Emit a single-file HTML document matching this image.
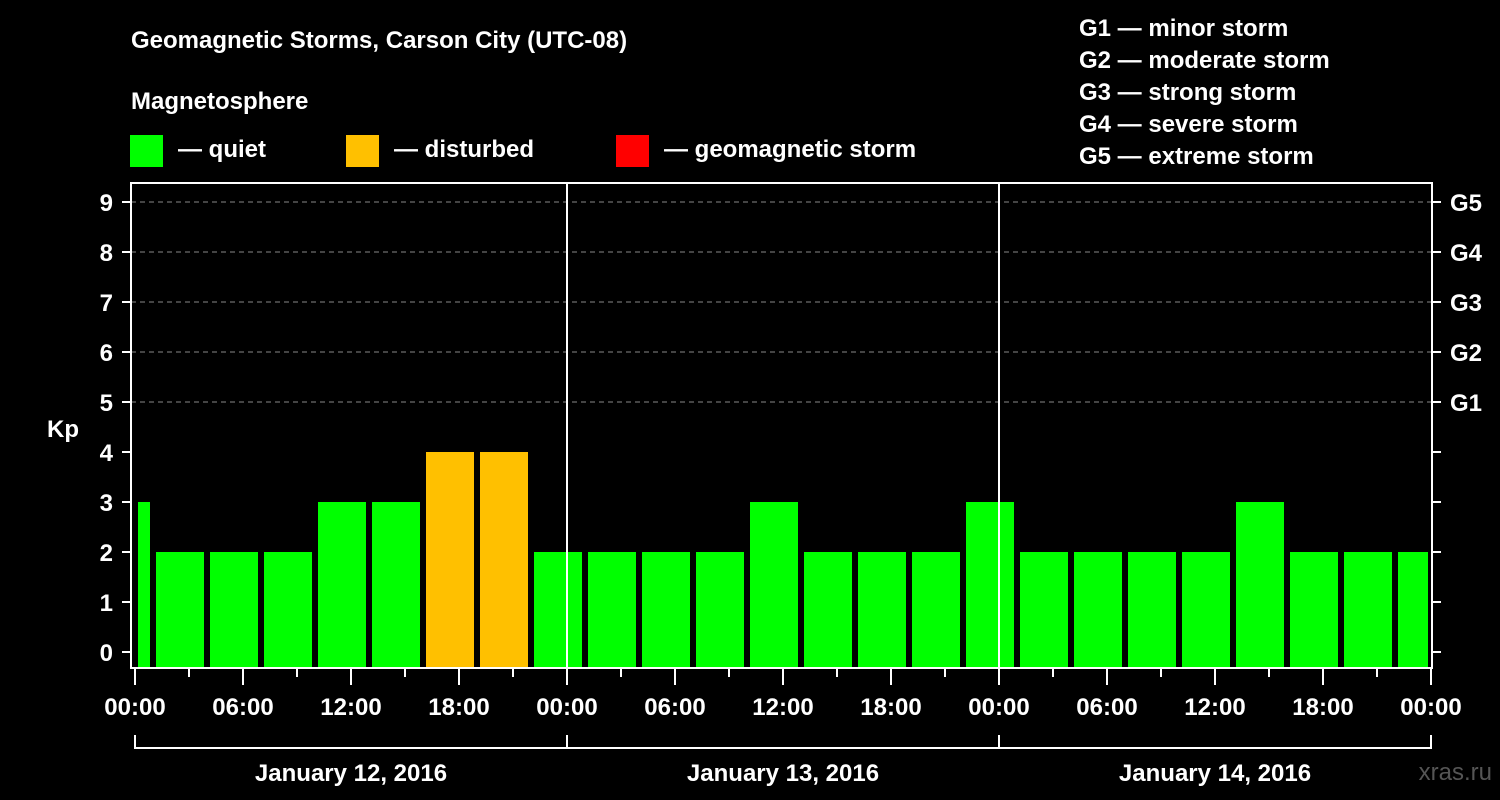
<!DOCTYPE html>
<html><head><meta charset="utf-8"><style>
html,body{margin:0;padding:0;background:#000;}
svg{display:block;font-family:"Liberation Sans",Arial,sans-serif;font-weight:bold;}
</style></head><body>
<svg id="chart" width="1500" height="800" viewBox="0 0 1500 800">
<rect x="0" y="0" width="1500" height="800" fill="#000"/>
<text x="131" y="48" font-size="24" fill="#fff">Geomagnetic Storms, Carson City (UTC-08)</text>
<text x="131" y="109" font-size="24" fill="#fff">Magnetosphere</text>
<g><rect x="130" y="135" width="33" height="32" fill="#00ff00"/><text x="178" y="157" font-size="24" fill="#fff">— quiet</text></g>
<g><rect x="346" y="135" width="33" height="32" fill="#ffc000"/><text x="394" y="157" font-size="24" fill="#fff">— disturbed</text></g>
<g><rect x="616" y="135" width="33" height="32" fill="#ff0000"/><text x="664" y="157" font-size="24" fill="#fff">— geomagnetic storm</text></g>
<g font-size="24" fill="#fff">
<text x="1079" y="36">G1 — minor storm</text>
<text x="1079" y="68">G2 — moderate storm</text>
<text x="1079" y="100">G3 — strong storm</text>
<text x="1079" y="132">G4 — severe storm</text>
<text x="1079" y="164">G5 — extreme storm</text>
</g>
<text x="63" y="437" font-size="24" fill="#fff" text-anchor="middle">Kp</text>
<text x="1492" y="780" font-size="24" fill="#555" text-anchor="end" font-weight="normal">xras.ru</text>
<g id="grid"></g><g id="bars"></g><g id="axes"></g>
</svg>
<script>
const kpValues=[3,2,2,2,3,3,4,4,2,2,2,2,3,2,2,2,3,2,2,2,2,3,2,2,2];
const blockStartHours=[-2,1,4,7,10,13,16,19,22,25,28,31,34,37,40,43,46,49,52,55,58,61,64,67,70];
const yTicks=[0,1,2,3,4,5,6,7,8,9];
const gLabels=["","","","","","G1","G2","G3","G4","G5"];
const xTickLabels=["00:00","06:00","12:00","18:00","00:00","06:00","12:00","18:00","00:00","06:00","12:00","18:00","00:00"];
const dayLabels=["January 12, 2016","January 13, 2016","January 14, 2016"];
const NS="http://www.w3.org/2000/svg";
const L=131,R=1432,T=183,B=668,X0=135,X1=1431,H0=0,H1=72;
function x(h){return X0+(h-H0)/(H1-H0)*(X1-X0);}
function y(v){return 652-v*50;}
function mk(tag,attrs,parent){const e=document.createElementNS(NS,tag);for(const k in attrs)e.setAttribute(k,attrs[k]);parent.appendChild(e);return e;}
function color(v){return v>=5?"#ff0000":(v>=4?"#ffc000":"#00ff00");}
const grid=document.getElementById('grid'),bars=document.getElementById('bars'),axes=document.getElementById('axes');
yTicks.forEach((v,i)=>{
  if(v>=5){const g=mk('line',{x1:L,x2:R,y1:y(v),y2:y(v),stroke:'#888','stroke-dasharray':'5,4','stroke-width':1},grid);
  
  }
  const t=mk('line',{x1:122,x2:L,y1:y(v),y2:y(v),stroke:'#fff','stroke-width':2},axes);
  
  
  const lb=mk('text',{x:113,y:y(v)+9,'font-size':24,fill:'#fff','text-anchor':'end'},axes);lb.textContent=v;
  
  
  const rt=mk('line',{x1:R,x2:1441,y1:y(v),y2:y(v),stroke:'#fff','stroke-width':2},axes);
  
  
  if(gLabels[i]){const g=mk('text',{x:1450,y:y(v)+9,'font-size':24,fill:'#fff'},axes);g.textContent=gLabels[i];
  
  }
});
kpValues.forEach((v,i)=>{
  let a=Math.max(x(blockStartHours[i]),X0)+3,b=Math.min(x(blockStartHours[i]+3),X1)-3;
  if(a<X0+3)a=X0+1;
  const r=mk('rect',{x:a,y:y(v),width:b-a,height:B-y(v),fill:color(v)},bars);
  
  
});
[24,48].forEach(h=>{const l=mk('line',{x1:x(h),x2:x(h),y1:T,y2:B,stroke:'#fff','stroke-width':2},axes);
  
  });
const fr=mk('rect',{x:L,y:T,width:R-L,height:B-T,fill:'none',stroke:'#fff','stroke-width':2},axes);


for(let h=0;h<=72;h+=3){
  const major=h%6===0;
  const tk=mk('line',{x1:x(h),x2:x(h),y1:B,y2:major?B+17:B+9,stroke:'#fff','stroke-width':2},axes);
  
  
}
xTickLabels.forEach((s,i)=>{const t=mk('text',{x:x(i*6),y:715,'font-size':24,fill:'#fff','text-anchor':'middle'},axes);t.textContent=s;
  
  });
const br=mk('path',{d:`M${x(0)} 735V748H${x(72)}V735M${x(24)} 735V748M${x(48)} 735V748`,fill:'none',stroke:'#fff','stroke-width':2},axes);


dayLabels.forEach((s,i)=>{const t=mk('text',{x:x(i*24+12),y:781,'font-size':24,fill:'#fff','text-anchor':'middle'},axes);t.textContent=s;
  
  });
</script>
</body></html>
